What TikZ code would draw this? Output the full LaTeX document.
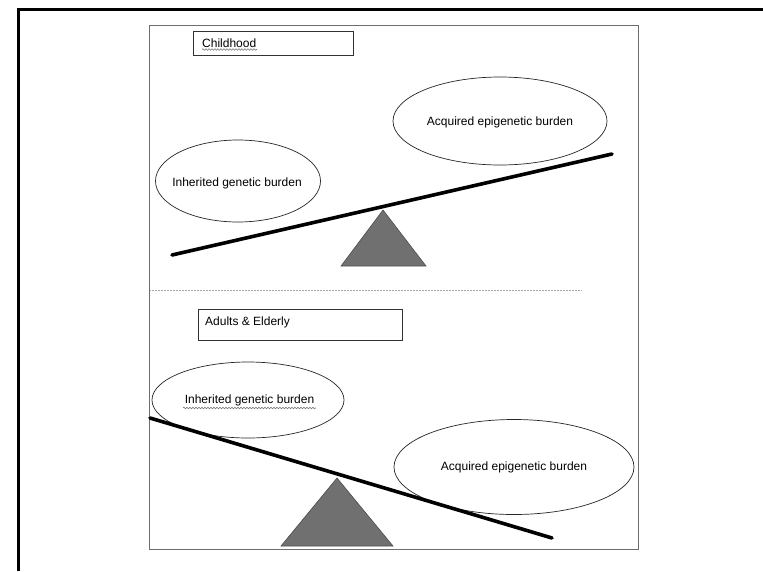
\documentclass[tikz,border=0pt]{standalone}
\usepackage{fontspec}
\setmainfont{Liberation Sans}
\usetikzlibrary{shapes.geometric,decorations.pathmorphing}
\definecolor{framegray}{RGB}{110,110,110}
\definecolor{fulcrum}{RGB}{112,112,112}
\definecolor{squiggle}{RGB}{120,120,120}
\tikzset{
  burden/.style={ellipse, draw=black!85, line width=0.7pt, inner sep=0pt, font=\fontsize{12}{14}\selectfont},
  agebox/.style={draw=black!80, line width=0.8pt, anchor=north west, inner sep=0pt},
  agelabel/.style={anchor=west, inner sep=0pt, font=\fontsize{12}{14}\selectfont},
  beam/.style={line width=3.6pt, line cap=round},
  pivot/.style={fill=fulcrum, draw=black!70, line width=0.6pt},
  spellmark/.style={squiggle, line width=0.6pt, decorate, decoration={snake, amplitude=0.8pt, segment length=3pt}}
}
\begin{document}
\begin{tikzpicture}[x=1pt,y=-1pt]
  \useasboundingbox (0,0) rectangle (763,571);
  \fill[white] (0,0) rectangle (763,571);
  % outer page edge
  \draw[line width=2.2pt] (18.5,571) -- (18.5,9.5) -- (763,9.5);
  % inner panel and separator
  \draw[framegray, line width=1pt] (149,25) rectangle (638,549);
  \draw[framegray!60, line width=0.8pt, dash pattern=on 1pt off 0.5pt] (150,290) -- (581,290);

  % ---- Childhood ----
  \node[agebox, minimum width=160pt, minimum height=24pt] (kidbox) at (193,31) {};
  \node[agelabel] (kidlabel) at (202,43) {Childhood};
  \draw[spellmark] (202,49.5) -- (257,49.5);

  \node[burden, minimum width=165pt, minimum height=82pt] (inhA) at (238,181) {};
  \node[font=\fontsize{12}{14}\selectfont, inner sep=0pt] (inhAtext) at (237,183) {Inherited genetic burden};
  \node[burden, minimum width=214pt, minimum height=88pt] (acqA) at (500,121) {};
  \node[font=\fontsize{12}{14}\selectfont, inner sep=0pt] (acqAtext) at (500,122) {Acquired epigenetic burden};

  \coordinate (beamAl) at (172,255);
  \coordinate (beamAr) at (612,154);
  \draw[beam] (beamAl) -- (beamAr);
  \coordinate (pivA) at (383,210);
  \coordinate (pivAl) at (341,266);
  \coordinate (pivAr) at (426,266);
  \draw[pivot] (pivA) -- (pivAr) -- (pivAl) -- cycle;

  % ---- Adults & Elderly ----
  \node[agebox, minimum width=204pt, minimum height=31pt] (oldbox) at (198,309) {};
  \node[agelabel] (oldlabel) at (205,322) {Adults \& Elderly};

  \node[burden, minimum width=192pt, minimum height=76pt] (inhB) at (248,400) {};
  \node[font=\fontsize{12}{14}\selectfont, inner sep=0pt] (inhBtext) at (249.5,400) {Inherited genetic burden};
  \draw[spellmark] (183,408) -- (316,408);
  \node[burden, minimum width=240pt, minimum height=95pt] (acqB) at (514,467) {};
  \node[font=\fontsize{12}{14}\selectfont, inner sep=0pt] (acqBtext) at (514,467) {Acquired epigenetic burden};

  \coordinate (beamBl) at (150,418);
  \coordinate (beamBr) at (552,538);
  \draw[beam] (beamBl) -- (beamBr);
  \coordinate (pivB) at (337,478);
  \coordinate (pivBl) at (281,546);
  \coordinate (pivBr) at (393,546);
  \draw[pivot] (pivB) -- (pivBr) -- (pivBl) -- cycle;
\end{tikzpicture}
\end{document}
